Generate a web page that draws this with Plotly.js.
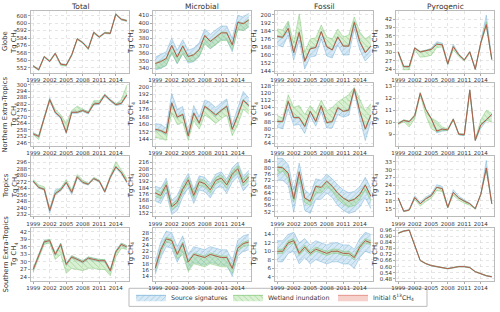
<!DOCTYPE html>
<html><head><meta charset="utf-8">
<script src="https://cdn.plot.ly/plotly-3.0.1.min.js"></script>
<style>html,body{margin:0;padding:0;background:#fff}#chart{width:500px;height:312px}</style>
</head><body><div id="chart"></div>
<script>
const years = [1999,2000,2001,2002,2003,2004,2005,2006,2007,2008,2009,2010,2011,2012,2013,2014,2015,2016];
const xTicks = [1999,2002,2005,2008,2011,2014];
const columnTitles = ["Total","Microbial","Fossil","Pyrogenic"];
const rowTitles = ["Globe","Northern Extra-Tropics","Tropics","Southern Extra-Tropics"];
const legendNames = ["Source signatures","Wetland inundation","Initial δ<sup>13</sup>CH<sub>4</sub>"];

// Globe
const globeTotalMid = [554,550,564,559,567.5,556,555,566,583,579,572.5,590,585,589.5,589,609.5,604,602.5];
const globeTotalBlueLo = [553.3,549.3,563.3,558.3,566.8,555.3,554.3,565.3,582.3,578.3,571.8,589.3,584.3,588.8,588.3,608.8,603.3,601.8];
const globeTotalBlueHi = [554.7,550.7,564.7,559.7,568.2,556.7,555.7,566.7,583.7,579.7,573.2,590.7,585.7,590.2,589.7,610.2,604.7,603.2];
const globeTotalGreenLo = [553.5,549.5,563.5,558.5,566.5,554.5,554,565,582.5,578.5,571.5,589,584.5,589,588.5,609,603.5,602];
const globeTotalGreenHi = [554.5,550.5,564.5,559.5,568,556,555.5,566.5,583.5,579.5,573,590.5,585.5,590,589.5,610,604.5,603];
const globeTotalTicks = ["552","560","568","576","584","592","600","608"];

const globeMicMid = [346.5,349,353,370.4,355,369.6,355.7,358,365,383.5,375.6,381.7,387,387,371.3,401,399,404];
const globeMicBlueLo = [338,340,344,361,346,360,347,349,356,374,366,372,378,378,362,392,390,395];
const globeMicBlueHi = [355,358,362,380,364,378,364,367,374,392,385,391,396,396,380,410,408,413];
const globeMicGreenLo = [340,341,344,360,347,359,349,350,356,372,366,371,377,377,365,391,390,395];
const globeMicGreenHi = [347.5,350,354,371,356,370.5,356.5,359,366,384.5,376.5,382.5,388,388,372,402,400,405];
const globeMicTicks = ["340","350","360","370","380","390","400","410"];

const globeFosMid = [178.7,177.7,186.6,162.3,182.6,153.8,166.2,167.5,183.3,168.2,165,178,168.9,168.9,192.5,173.4,162.3,168.9];
const globeFosBlueLo = [170,168,180,155,175,146,158,159,176,159,157,170,160,160,186,165,154,160];
const globeFosBlueHi = [179.5,178.5,192,163,184,155,167,168.5,184,169,166,179,170,170,194,174.5,163,170];
const globeFosGreenLo = [178,177,186,162,182,153,166,167,183,168,165,177.5,168.5,168.5,192,173,162,168.5];
const globeFosGreenHi = [186,185,194,172,201,163,176,177,190,178,176,186,178,180,198,183,176,180];
const globeFosTicks = ["144","152","160","168","176","184","192","200"];

const globePyrMid = [30.2,24.9,24.9,31.6,30.2,30.6,31.1,33,32.8,25.9,32.1,29.2,27.3,30.2,24,33.5,40.1,27.5];
const globePyrBlueLo = [30,24.7,24.7,31.4,30,30.4,30.9,32.8,32.6,25.7,31.9,29,27.1,30,23.8,33.3,39.9,27.3];
const globePyrBlueHi = [30.4,25.1,25.1,31.8,30.4,30.8,31.5,33.9,33.4,26.1,33,29.5,27.5,30.4,24.2,33.8,43.5,27.7];
const globePyrGreenLo = [30,23.8,23.8,31,28.3,28.5,29,31.8,32,25.5,31,28.6,26.9,29.8,23.8,33,39.5,27.2];
const globePyrGreenHi = [30.4,25.1,25.1,31.8,30.4,30.8,31.3,33.2,33,26.1,32.3,29.4,27.5,30.4,24.2,33.7,41,27.7];
const globePyrTicks = ["24","27","30","33","36","39","42"];

// Northern Extra-Tropics
const netTotalMid = [254.3,251.9,269,286.1,274.3,269.6,255.5,274.3,274.3,276,273.7,282,282.6,290.3,285.5,281.4,282.6,290.3];
const netTotalBlueLo = [253.3,250.9,268,285,273,268.6,254.5,273.3,273.3,275,272.7,281,281.6,289.3,284.5,280.4,281.6,289.3];
const netTotalBlueHi = [255.3,252.9,270,287.5,275.3,270.6,256.5,275.3,275.3,277,274.7,283,283.6,291.3,286.5,282.4,283.6,291.3];
const netTotalGreenLo = [253.5,249,268.5,285.5,274,269.6,255.5,274,274,275.5,273.3,281.5,282.2,290,285,281,282.2,290];
const netTotalGreenHi = [255,252.5,270,287,277,272,264,276,280,277,274.5,285,285,291,286,282,286,299.5];
const netTotalTicks = ["246","252","258","264","270","276","282","288","294","300"];

const netMicMid = [154.8,153.4,150.5,182.8,167.7,170.6,147.7,172,161.3,179.2,174.9,169.9,174.9,179.2,154.8,169.2,185.7,180];
const netMicBlueLo = [153.5,152,149,181.5,166.5,169.5,146.5,171,160,178,173.5,168.5,173.5,178,153.5,168,184.5,178.5];
const netMicBlueHi = [161,160,156,193,176,179,152,180,168,186,183,178,183,187,160,178,195,188];
const netMicGreenLo = [146,145,143,172,160,162,143,164,155,170,166,161,166,170,148,160,176,171];
const netMicGreenHi = [155.5,154,151.5,183.5,168.5,171.5,148.5,173,162,180,175.5,171,175.5,180,155.5,170,186.5,181];
const netMicTicks = ["144","152","160","168","176","184","192","200"];

const netFosMid = [88.3,88.3,110.6,92.5,92.5,82.8,99.5,88.3,105.7,86.9,88.3,103.6,99.5,100.9,124.5,99.5,80,95.3];
const netFosBlueLo = [82,80,102,84,85,75,94,83,99,81,81,96,93,95,122,92,67,88];
const netFosBlueHi = [89,89,111.5,93.5,93.5,83.5,100.5,89,106.5,88,89,104.5,100.5,102,125.5,100.5,81,96];
const netFosGreenLo = [87.5,87.5,110,92,92,82,99,87.5,105,86,87.5,103,99,100,124,99,79,94.5];
const netFosGreenHi = [95,92,118,104,106,96,106,98,112,100,104,110,114,118,126,112,100,108];
const netFosTicks = ["64","72","80","88","96","104","112","120","128"];

const netPyrMid = [9.88,10.15,10.05,10.56,12.43,11.08,10.3,9.26,9.42,9.36,10.25,9,8.95,12.69,8.48,9.78,10.2,10.66];
const netPyrBlueLo = [9.83,10.1,10,10.45,12.38,11.03,10.25,9.1,9.25,9.3,10.2,8.95,8.85,12.64,8.43,9.5,10.1,10.6];
const netPyrBlueHi = [9.93,10.2,10.1,10.6,12.48,11.13,10.35,9.31,9.47,9.41,10.3,9.05,9,12.74,8.53,9.83,10.25,10.71];
const netPyrGreenLo = [9.8,10.05,9.6,10.3,12.3,10.6,9.45,9.2,9.3,9.3,10.15,8.95,8.9,12.5,8.45,9.7,10.15,10];
const netPyrGreenHi = [9.95,10.2,10.1,10.65,12.5,11.15,10.35,10.1,9.6,9.45,10.3,9.05,9,12.75,8.55,10.2,11,10.75];
const netPyrTicks = ["9","10","11","12","13"];

// Tropics
const troTotalMid = [272.8,265,262.8,236.5,257.3,262,271.3,259,278.2,271.3,269,276,272.8,259.7,277.5,290.6,283.6,272];
const troTotalBlueLo = [271.5,264,261.5,233,256,260.5,270,256,276.5,270,268,275,271.5,258.5,276,289,282,270.5];
const troTotalBlueHi = [274,266,264,238,262,264,272.5,260,279.5,272.5,270,277,274,261,279,292,285,273.5];
const troTotalGreenLo = [272,264.5,262.3,236,257,261.5,270.8,258.5,277.7,270.8,268.5,275.5,272.3,259.2,277,290,283,271.5];
const troTotalGreenHi = [275,268,266,238,259,264,275,262,281,274,270,277.5,274,261,279,297,287,276];
const troTotalTicks = ["232","240","248","256","264","272","280","288","296"];

const troMicMid = [177.3,174.1,187.5,159.9,165.4,182,193.9,174.1,191.5,189.1,181.2,193.1,196.2,187.5,201,208,189.9,197.8];
const troMicBlueLo = [167,164,178,150,155,172,184,164,181,179,171,183,186,177,191,198,180,188];
const troMicBlueHi = [186,183,196,168,174,190,202,182,199,197,189,201,204,195,209,216,198,206];
const troMicGreenLo = [173,170,183,156,161,178,189,170,187,185,177,189,192,183,197,204,186,193];
const troMicGreenHi = [182,178,191,163,169,186,197,178,195,193,185,197,200,191,205,212,194,202];
const troMicTicks = ["152","160","168","176","184","192","200","208","216"];

const troFosMid = [80.4,80,76.5,60.3,77.3,60.7,58.7,68.2,67.5,71.4,68.2,63.8,60.7,58.7,59.9,63,69,61.9];
const troFosBlueLo = [72,72,69,52,71,53,51,60,60,64,61,56,53,51,52,55,61,54];
const troFosBlueHi = [86,86,82,66,83,66,63,73,72,76,73,69,66,64,65,68,74,67];
const troFosGreenLo = [76,78,73,58,74,58,56,64,64,68,65,60,57,55,56,60,66,59];
const troFosGreenHi = [81,80.5,77,61,78,61,59.2,68.7,68,72,68.7,64.3,61.2,59.2,60.4,63.5,69.5,62.4];
const troFosTicks = ["52","56","60","64","68","72","76","80","84"];

const troPyrMid = [19.1,14,14.5,19.3,16.9,18.8,20,23.2,22.7,15.5,21.2,19.1,17.9,16.9,15,20.5,30.6,16.9];
const troPyrBlueLo = [19,13.9,14.4,19.1,16.8,18.7,19.9,23.1,22.6,15.3,21.1,19,17.8,16.8,14.9,20.4,30.4,16.8];
const troPyrBlueHi = [19.3,14.2,14.7,20,17.5,19.5,20.6,24.2,23.5,15.7,22.3,19.8,18.4,17.2,15.2,20.7,33.5,17];
const troPyrGreenLo = [18.8,13.9,14.3,18.6,16,17.8,19,22,21.6,15.2,20.2,18.3,17.1,16.3,14.8,20.2,29.5,16.7];
const troPyrGreenHi = [19.2,14.1,14.6,19.4,17,18.9,20.1,23.3,22.8,15.6,21.3,19.2,18,17,15.1,20.6,30.7,17];
const troPyrTicks = ["15","18","21","24","27","30","33"];

// Southern Extra-Tropics
const setTotalMid = [27,32.5,38,38.5,33,37,29,32,31,30,31.5,31,30.5,30.5,26.5,34,37,36];
const setTotalBlueLo = [26.5,32,37.5,38,32.5,36.5,28.5,31.5,30.5,29.5,31,30.5,30,30,26,33.5,36.5,35.5];
const setTotalBlueHi = [27.5,33,38.5,39,33.5,37.5,29.5,32.5,31.5,30.5,32,31.5,31,31,27,34.5,37.5,36.5];
const setTotalGreenLo = [26,31.5,37,37.5,31,33,25.5,27.5,27,26.5,27.5,27.5,27,27,24.5,32,35.5,35];
const setTotalGreenHi = [27.5,33,38.5,39,33.5,37.5,29.5,32.5,31.5,30.5,32,31.5,31,31,27,34.5,37.5,36.5];
const setTotalTicks = ["24","27","30","33","36","39","42"];

const setMicMid = [16.5,22.5,26,25.5,21,24.5,18.5,21,20.5,20,21,20.5,20,20,16.5,23,24.5,25];
const setMicBlueLo = [14.5,20,23.5,23,18.5,22,16,18.5,18,17.5,18.5,18,17.5,17.5,14,20.5,22,22.5];
const setMicBlueHi = [18.5,25,28.5,28,23.5,27,21,23.5,23,22.5,23.5,23,22.5,22.5,19,25.5,27,27.5];
const setMicGreenLo = [15.5,21.5,25,24.5,19.5,21,15.5,18,17.5,17,18,17.5,17,17,15,22,23.5,24];
const setMicGreenHi = [17,23,26.5,26,21.5,25,19,21.5,21,20.5,21.5,21,20.5,20.5,17,23.5,25,25.5];
const setMicTicks = ["14","16","18","20","22","24","26","28"];

const setFosMid = [10,10,12,12.5,9.5,11,9.5,10.5,10,9.5,10,10,9.5,9.5,8.5,11,12.5,12];
const setFosBlueLo = [7.5,7.5,9.5,10,7,8.5,7,8,7.5,7,7.5,7.5,7,7,6,8.5,10,9.5];
const setFosBlueHi = [12.5,12.5,14,14.5,12,13,11.5,12.5,12,11.5,12,12,11.5,11.5,10.5,13,14.5,14];
const setFosGreenLo = [9.5,9.5,11.5,12,9,10.5,9,10,9.5,9,9.5,9.5,9,9,8,10.5,12,11.5];
const setFosGreenHi = [10.5,10.5,12.5,13,10,11.5,10,11,10.5,10,10.5,10.5,10,10,9,11.5,13,12.5];
const setFosTicks = ["4","6","8","10","12","14"];

const setPyrMid = [0.93,0.95,0.96,0.81,0.66,0.63,0.61,0.6,0.59,0.58,0.59,0.6,0.6,0.59,0.55,0.53,0.51,0.5];
const setPyrBlueLo = [0.927,0.947,0.957,0.807,0.657,0.627,0.607,0.597,0.587,0.577,0.587,0.597,0.597,0.587,0.547,0.527,0.507,0.497];
const setPyrBlueHi = [0.933,0.953,0.963,0.813,0.663,0.633,0.613,0.603,0.593,0.583,0.593,0.603,0.603,0.593,0.553,0.533,0.513,0.503];
const setPyrGreenLo = [0.927,0.947,0.957,0.807,0.657,0.627,0.607,0.597,0.587,0.577,0.587,0.597,0.597,0.587,0.547,0.527,0.507,0.497];
const setPyrGreenHi = [0.933,0.953,0.963,0.813,0.663,0.633,0.613,0.603,0.593,0.583,0.593,0.603,0.603,0.593,0.553,0.533,0.513,0.503];
const setPyrTicks = ["0.48","0.54","0.60","0.66","0.72","0.78","0.84","0.90","0.96"];

const panels = [
 {mid:globeTotalMid,bl:globeTotalBlueLo,bh:globeTotalBlueHi,gl:globeTotalGreenLo,gh:globeTotalGreenHi,ticks:globeTotalTicks,range:[546.5,613]},
 {mid:globeMicMid,bl:globeMicBlueLo,bh:globeMicBlueHi,gl:globeMicGreenLo,gh:globeMicGreenHi,ticks:globeMicTicks,range:[334,416]},
 {mid:globeFosMid,bl:globeFosBlueLo,bh:globeFosBlueHi,gl:globeFosGreenLo,gh:globeFosGreenHi,ticks:globeFosTicks,range:[142,204]},
 {mid:globePyrMid,bl:globePyrBlueLo,bh:globePyrBlueHi,gl:globePyrGreenLo,gh:globePyrGreenHi,ticks:globePyrTicks,range:[22.6,45]},
 {mid:netTotalMid,bl:netTotalBlueLo,bh:netTotalBlueHi,gl:netTotalGreenLo,gh:netTotalGreenHi,ticks:netTotalTicks,range:[243,301.5]},
 {mid:netMicMid,bl:netMicBlueLo,bh:netMicBlueHi,gl:netMicGreenLo,gh:netMicGreenHi,ticks:netMicTicks,range:[137,204]},
 {mid:netFosMid,bl:netFosBlueLo,bh:netFosBlueHi,gl:netFosGreenLo,gh:netFosGreenHi,ticks:netFosTicks,range:[61,131]},
 {mid:netPyrMid,bl:netPyrBlueLo,bh:netPyrBlueHi,gl:netPyrGreenLo,gh:netPyrGreenHi,ticks:netPyrTicks,range:[8,13.3]},
 {mid:troTotalMid,bl:troTotalBlueLo,bh:troTotalBlueHi,gl:troTotalGreenLo,gh:troTotalGreenHi,ticks:troTotalTicks,range:[229,304]},
 {mid:troMicMid,bl:troMicBlueLo,bh:troMicBlueHi,gl:troMicGreenLo,gh:troMicGreenHi,ticks:troMicTicks,range:[147.5,224]},
 {mid:troFosMid,bl:troFosBlueLo,bh:troFosBlueHi,gl:troFosGreenLo,gh:troFosGreenHi,ticks:troFosTicks,range:[49,87.5]},
 {mid:troPyrMid,bl:troPyrBlueLo,bh:troPyrBlueHi,gl:troPyrGreenLo,gh:troPyrGreenHi,ticks:troPyrTicks,range:[12,35.2]},
 {mid:setTotalMid,bl:setTotalBlueLo,bh:setTotalBlueHi,gl:setTotalGreenLo,gh:setTotalGreenHi,ticks:setTotalTicks,range:[22.5,43.5]},
 {mid:setMicMid,bl:setMicBlueLo,bh:setMicBlueHi,gl:setMicGreenLo,gh:setMicGreenHi,ticks:setMicTicks,range:[12.5,29.5]},
 {mid:setFosMid,bl:setFosBlueLo,bh:setFosBlueHi,gl:setFosGreenLo,gh:setFosGreenHi,ticks:setFosTicks,range:[3,15.5]},
 {mid:setPyrMid,bl:setPyrBlueLo,bh:setPyrBlueHi,gl:setPyrGreenLo,gh:setPyrGreenHi,ticks:setPyrTicks,range:[0.46,0.98]}
];

const colDom = [[0.062,0.258],[0.306,0.502],[0.55,0.746],[0.792,0.988]];
const rowDom = [[0.766,0.965],[0.532,0.734],[0.306,0.5],[0.1,0.269]];
const yTitleX = [0.02,0.262,0.508,0.75];

const FONT = "DejaVu Sans, sans-serif";
const blueFill = {shape:'/', fgcolor:'rgba(90,160,210,0.45)', bgcolor:'rgba(166,206,232,0.45)', size:4, solidity:0.2};
const greenFill = {shape:'\\', fgcolor:'rgba(95,180,85,0.45)', bgcolor:'rgba(170,222,155,0.45)', size:4, solidity:0.2};
const blueEdge = 'rgba(100,165,210,0.8)';
const greenEdge = 'rgba(110,190,100,0.8)';
const redLine = '#b35c4a';

const traces = [];
const legendBase = {orientation:'h', xanchor:'left', y:0.047, yanchor:'middle', borderwidth:0,
  bgcolor:'rgba(0,0,0,0)', font:{size:6.3, family:FONT, color:'#333'}, itemwidth:30};
const layout = {
  width:500, height:312, margin:{l:0,r:0,t:0,b:0},
  paper_bgcolor:'#fff', plot_bgcolor:'#fff',
  font:{family:FONT, size:6, color:'#333'},
  showlegend:true,
  legend:Object.assign({}, legendBase, {x:0.262}),
  legend2:Object.assign({}, legendBase, {x:0.456}),
  legend3:Object.assign({}, legendBase, {x:0.666}),
  shapes:[{type:'rect', xref:'paper', yref:'paper', x0:0.258, x1:0.854, y0:0.018, y1:0.076,
           line:{color:'#bbb', width:1}, fillcolor:'rgba(255,255,255,0)', layer:'below'}],
  annotations:[]
};

panels.forEach((p,i)=>{
  const r = Math.floor(i/4), c = i%4, n = i+1;
  const xa = 'x'+(n===1?'':n), ya = 'y'+(n===1?'':n);
  const common = {x:years, xaxis:xa, yaxis:ya, type:'scatter', mode:'lines', showlegend:false, hoverinfo:'skip'};
  traces.push(Object.assign({}, common, {y:p.bl, line:{color:blueEdge, width:0.5}}));
  traces.push(Object.assign({}, common, {y:p.bh, line:{color:blueEdge, width:0.5}, fill:'tonexty', fillpattern:blueFill}));
  traces.push(Object.assign({}, common, {y:p.gl, line:{color:greenEdge, width:0.5}}));
  traces.push(Object.assign({}, common, {y:p.gh, line:{color:greenEdge, width:0.5}, fill:'tonexty', fillpattern:greenFill}));
  traces.push(Object.assign({}, common, {y:p.mid, line:{color:redLine, width:1}}));
  layout['xaxis'+(n===1?'':n)] = {
    domain:colDom[c], anchor:ya, range:[1998.6,2016.4], tickvals:xTicks, ticktext:xTicks.map(String), tickangle:0,
    showgrid:true, gridcolor:'#d4d4d4', griddash:'dot', gridwidth:0.6,
    showline:true, mirror:true, linecolor:'#aaa', linewidth:0.8,
    ticks:'outside', ticklen:2, tickcolor:'#aaa', tickfont:{size:5.5}, zeroline:false
  };
  layout['yaxis'+(n===1?'':n)] = {
    domain:rowDom[r], anchor:xa, range:p.range, tickvals:p.ticks.map(Number), ticktext:p.ticks,
    showgrid:true, gridcolor:'#d4d4d4', griddash:'dot', gridwidth:0.6,
    showline:true, mirror:true, linecolor:'#aaa', linewidth:0.8,
    ticks:'outside', ticklen:2, tickcolor:'#aaa', tickfont:{size:5.5}, zeroline:false
  };
  const yc = (rowDom[r][0]+rowDom[r][1])/2;
  const ytxt = c===0 ? rowTitles[r]+'<br>Tg CH<sub>4</sub>' : 'Tg CH<sub>4</sub>';
  layout.annotations.push({xref:'paper', yref:'paper', x:yTitleX[c], y:yc, text:ytxt, textangle:-90,
    showarrow:false, xanchor:'center', yanchor:'middle', font:{size:6.8, family:FONT, color:'#333'}});
});

columnTitles.forEach((t,c)=>{
  layout.annotations.push({xref:'paper', yref:'paper', x:(colDom[c][0]+colDom[c][1])/2, y:0.978, text:t,
    showarrow:false, xanchor:'center', yanchor:'middle', font:{size:7.5, family:FONT, color:'#333'}});
});

// legend-only entries, one per legend box
traces.push({x:[null], y:[null], type:'scatter', mode:'lines', name:legendNames[0], fill:'toself', legend:'legend',
  fillpattern:blueFill, line:{color:blueEdge, width:0.8}, xaxis:'x', yaxis:'y', showlegend:true});
traces.push({x:[null], y:[null], type:'scatter', mode:'lines', name:legendNames[1], fill:'toself', legend:'legend2',
  fillpattern:greenFill, line:{color:greenEdge, width:0.8}, xaxis:'x', yaxis:'y', showlegend:true});
traces.push({x:[null], y:[null], type:'scatter', mode:'lines', name:legendNames[2], fill:'toself', legend:'legend3',
  fillcolor:'rgba(235,150,140,0.45)', line:{color:'rgba(220,120,110,0.9)', width:0.8}, xaxis:'x', yaxis:'y', showlegend:true});

Plotly.newPlot('chart', traces, layout, {staticPlot:true, displayModeBar:false});
</script>
</body></html>
